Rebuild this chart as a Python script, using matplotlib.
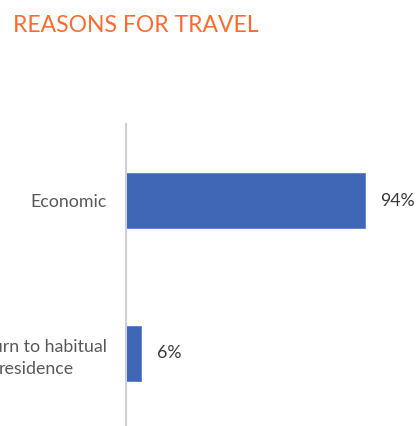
import matplotlib.pyplot as plt

# Chart data
categories = ["Economic", "Return to habitual\nresidence"]
shares = [0.94, 0.06]
value_labels = ["94%", "6%"]

plt.rcParams['font.family'] = ['Lato', 'DejaVu Sans']

fig = plt.figure(figsize=(4.19, 4.26), dpi=100)
fig.text(13 / 419, 1 - 32 / 426, "REASONS FOR TRAVEL", color="#FF6A2B",
         fontsize=16.5, ha="left", va="baseline")

ax = fig.add_axes([126 / 419, -4 / 426, 254 / 419, 306 / 426])
pos = list(range(len(categories)))
bars = ax.barh(pos, shares, height=0.355, color="#4066B6", edgecolor="#5B7FCC", linewidth=0.6)
ax.set_ylim(-0.5, len(categories) - 0.5)
ax.invert_yaxis()
ax.set_xlim(0, 1)

ax.set_yticks(pos)
ax.set_yticklabels(categories, fontsize=12.8, color="#595959", multialignment="center",
                   linespacing=1.45)
ax.tick_params(axis="y", length=0, pad=14)
ax.set_xticks([])

for s in ["top", "right", "bottom"]:
    ax.spines[s].set_visible(False)
ax.spines["left"].set_color("#D0D0D0")
ax.spines["left"].set_linewidth(1.5)

for b, lab in zip(bars, value_labels):
    ax.annotate(lab, (b.get_width(), b.get_y() + b.get_height() / 2),
                xytext=(11, 0), textcoords="offset points", va="center", ha="left",
                fontsize=12.8, color="#3A3A3A", clip_on=False)

fig.savefig("out.png", dpi=100)
